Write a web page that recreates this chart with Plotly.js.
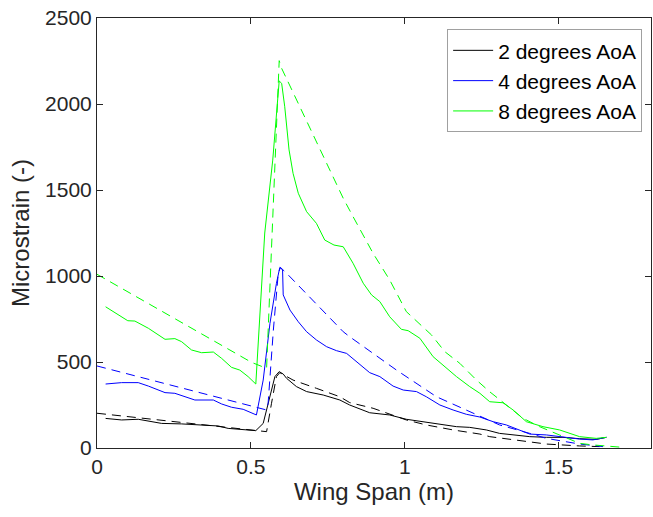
<!DOCTYPE html>
<html>
<head>
<meta charset="utf-8">
<script src="https://cdn.plot.ly/plotly-3.0.1.min.js"></script>
<style>html,body{margin:0;padding:0;background:#fff;}#chart{width:653px;height:517px;}</style>
</head>
<body>
<div id="chart"></div>
<script>
// 2 degrees AoA — measured (solid) and model (dashed)
const x2 = [0.028,0.08,0.134,0.21,0.275,0.351,0.394,0.426,0.47,0.516,0.54,0.562,0.578,0.592,0.605,0.616,0.648,0.681,0.735,0.789,0.821,0.886,0.951,1.005,1.06,1.114,1.168,1.211,1.265,1.308,1.352,1.406,1.46,1.514,1.568,1.622,1.655];
const y2 = [172,163,167,143,140,134,128,114,109,101,143,298,415,444,430,405,357,328,308,279,250,205,192,167,153,140,124,120,105,85,76,66,62,62,54,50,62];
const x2m = [0,0.551,0.567,0.583,0.594,0.637,0.713,0.789,0.821,0.897,1.005,1.07,1.157,1.244,1.276,1.373,1.46,1.568,1.633];
const y2m = [202,95,260,415,438,395,347,298,264,231,163,134,105,81,66,43,23,12,8];

// 4 degrees AoA
const x4 = [0.028,0.08,0.134,0.167,0.221,0.253,0.318,0.378,0.405,0.437,0.475,0.502,0.518,0.54,0.562,0.583,0.594,0.603,0.605,0.627,0.654,0.681,0.713,0.746,0.778,0.811,0.843,0.886,0.919,0.962,0.995,1.038,1.07,1.114,1.157,1.2,1.244,1.287,1.33,1.373,1.406,1.46,1.503,1.568,1.611,1.655];
const y4 = [372,380,380,360,322,318,279,279,256,237,225,205,192,395,725,957,1050,1035,890,802,734,676,628,589,566,550,502,438,415,360,337,328,298,250,221,196,180,153,134,105,81,76,66,52,47,62];
const x4m = [0,0.502,0.551,0.556,0.573,0.589,0.596,0.616,0.8,0.821,0.973,1.103,1.2,1.308,1.406,1.46,1.568,1.644];
const y4m = [477,240,221,260,686,1016,1050,1016,676,647,453,298,221,134,85,56,23,8];

// 8 degrees AoA
const x8 = [0.028,0.10,0.123,0.167,0.221,0.253,0.275,0.307,0.34,0.378,0.405,0.437,0.464,0.491,0.516,0.545,0.571,0.592,0.60,0.61,0.624,0.637,0.654,0.681,0.713,0.74,0.77,0.8,0.832,0.865,0.892,0.919,0.951,0.989,1.011,1.049,1.092,1.135,1.168,1.211,1.244,1.276,1.319,1.352,1.395,1.449,1.503,1.568,1.622,1.655];
const y8 = [821,740,738,696,632,636,618,570,554,558,521,469,453,415,372,1250,1674,2134,2120,1984,1733,1597,1481,1374,1306,1209,1180,1170,1074,958,890,851,763,690,682,638,531,463,415,357,318,269,263,221,153,124,105,66,56,62];
const x8m = [0,0.502,0.551,0.569,0.592,0.6,0.8,0.832,0.897,0.951,1.005,1.087,1.13,1.179,1.233,1.276,1.33,1.384,1.438,1.503,1.568,1.61,1.675,1.714];
const y8m = [1010,498,463,1229,2252,2207,1452,1345,1132,977,793,657,560,492,395,327,250,173,124,76,27,18,8,3];

const names = ['2 degrees AoA','4 degrees AoA','8 degrees AoA'];
const colors = ['#000000','#0000ff','#00ff00'];
const meas = [[x2,y2],[x4,y4],[x8,y8]];
const model = [[x2m,y2m],[x4m,y4m],[x8m,y8m]];

const traces = [];
for (let i = 0; i < 3; i++) {
  traces.push({x: meas[i][0], y: meas[i][1], type:'scatter', mode:'lines', name: names[i],
    line:{color: colors[i], width:1}, showlegend:true});
}
for (let i = 0; i < 3; i++) {
  traces.push({x: model[i][0], y: model[i][1], type:'scatter', mode:'lines', name: names[i]+' model',
    line:{color: colors[i], width:1, dash:'9px,6px'}, showlegend:false});
}

const FONT = 'Liberation Sans, Arial, sans-serif';
const axisCommon = {
  showgrid:false, zeroline:false, showline:true, mirror:'ticks', linecolor:'#262626', linewidth:1,
  ticks:'inside', ticklen:6, tickcolor:'#262626', tickwidth:1,
  tickfont:{family:FONT, size:21, color:'#262626'}
};

const layout = {
  width:653, height:517,
  margin:{l:97, r:2, t:18, b:69},
  paper_bgcolor:'#ffffff', plot_bgcolor:'#ffffff',
  font:{family:FONT, color:'#262626'},
  xaxis: Object.assign({}, axisCommon, {range:[0,1.8], dtick:0.5, tick0:0,
    title:{text:'Wing Span (m)', font:{size:24, color:'#262626'}, standoff:4}}),
  yaxis: Object.assign({}, axisCommon, {range:[0,2500], dtick:500, tick0:0,
    title:{text:'Microstrain (-)', font:{size:24, color:'#262626'}, standoff:8}}),
  showlegend:true,
  legend:{x:0.984, xanchor:'right', y:0.974, yanchor:'top', bgcolor:'#ffffff',
    bordercolor:'#a0a0a0', borderwidth:1, font:{size:21, color:'#000000'},
    tracegroupgap:0, itemwidth:40}
};

Plotly.newPlot('chart', traces, layout, {displayModeBar:false, staticPlot:true});
</script>
</body>
</html>
